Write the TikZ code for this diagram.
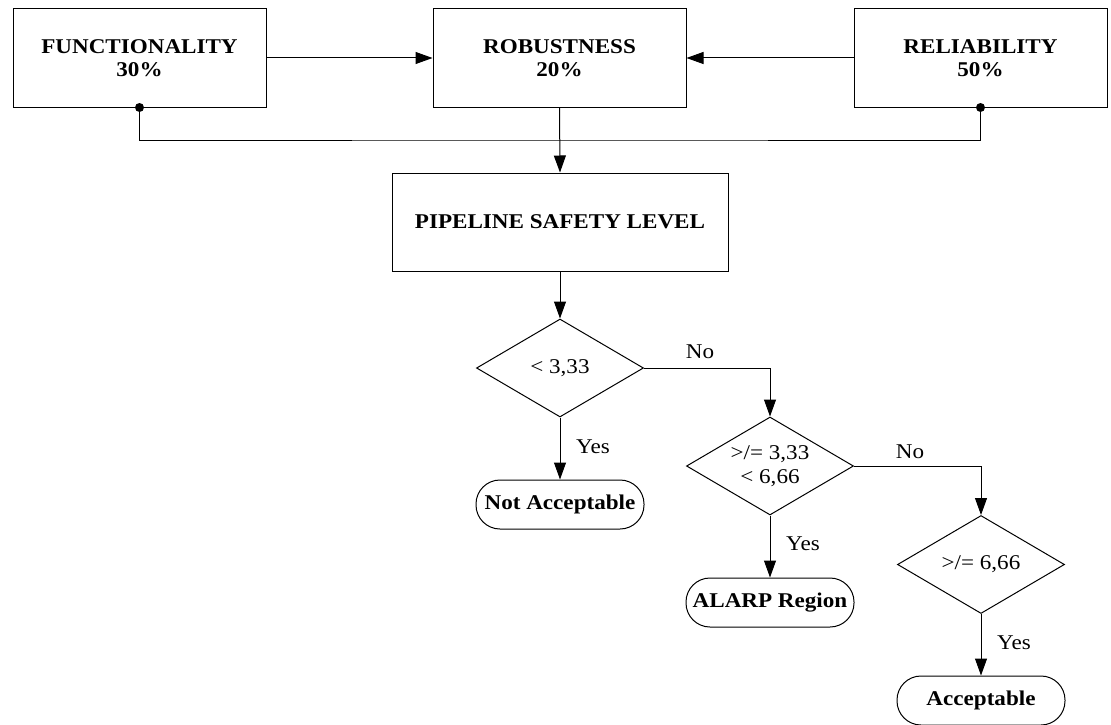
\documentclass[tikz,border=0pt]{standalone}
\usepackage{fontspec}
\setmainfont{Liberation Serif}[FakeStretch=1.1]
\usetikzlibrary{arrows.meta,shapes.geometric}

\tikzset{
  flow/.style={draw=black, line width=1pt, -{Triangle[length=17pt,width=12pt]}},
  wire/.style={draw=black, line width=1pt},
  factorbox/.style={draw=black, line width=1pt, rectangle, minimum width=253pt, minimum height=98pt,
    align=center, font=\fontsize{21}{23}\selectfont\bfseries, inner sep=0pt},
  levelbox/.style={factorbox, minimum width=336pt},
  decision/.style={draw=black, line width=1pt, diamond, minimum width=167pt, minimum height=98pt, inner sep=0pt},
  dectext/.style={align=center, font=\fontsize{21}{24}\selectfont, inner sep=0pt},
  terminal/.style={draw=black, line width=1pt, rectangle, rounded corners=24pt, minimum width=168pt,
    minimum height=49pt, font=\fontsize{21}{23}\selectfont\bfseries, inner sep=0pt},
  branch/.style={font=\fontsize{21}{23}\selectfont, inner sep=0pt},
  joint/.style={fill=black},
}

\begin{document}
\begin{tikzpicture}[x=1pt, y=-1pt]
\useasboundingbox (0,0) rectangle (1111,725);

% weighted factors
\node[factorbox] (func) at (139.5,58) {FUNCTIONALITY\\30\%};
\node[factorbox] (rob)  at (559.5,58) {ROBUSTNESS\\20\%};
\node[factorbox] (rel)  at (980.5,58) {RELIABILITY\\50\%};

% combined level
\node[levelbox] (psl) at (560,222) {PIPELINE SAFETY LEVEL};

% decisions
\node[decision] (d1) at (560,368) {};
\node[dectext] at (d1) {< 3,33};
\node[decision] (d2) at (770,466) {};
\node[dectext] at (d2) {>/= 3,33\\< 6,66};
\node[decision] (d3) at (981,564.5) {};
\node[dectext] at (d3) {>/= 6,66};

% outcomes
\node[terminal] (na)    at (560,504.5) {Not Acceptable};
\node[terminal] (alarp) at (770,602.5) {ALARP Region};
\node[terminal] (acc)   at (981,700.5) {Acceptable};

% factor links
\draw[flow] (func.east) -- (rob.west);
\draw[flow] (rel.west) -- (rob.east);
\coordinate (bus) at (560,140);
\draw[wire] (func.south) |- (bus) -| (rel.south);
\fill[joint] (func.south) circle (4.5pt);
\fill[joint] (rel.south) circle (4.5pt);
\draw[flow] (rob.south) -- (psl.north);
\draw[flow] (psl.south) -- (d1.north);

% decision flow
\draw[flow] (d1.east) -| (d2.north);
\node[branch] at (700,352) {No};
\draw[flow] (d1.south) -- (na.north);
\node[branch, anchor=west] at (576,447) {Yes};

\draw[flow] (d2.east) -| (d3.north);
\node[branch] at (910,452) {No};
\draw[flow] (d2.south) -- (alarp.north);
\node[branch, anchor=west] at (786,544) {Yes};

\draw[flow] (d3.south) -- (acc.north);
\node[branch, anchor=west] at (997,643) {Yes};
\end{tikzpicture}
\end{document}
